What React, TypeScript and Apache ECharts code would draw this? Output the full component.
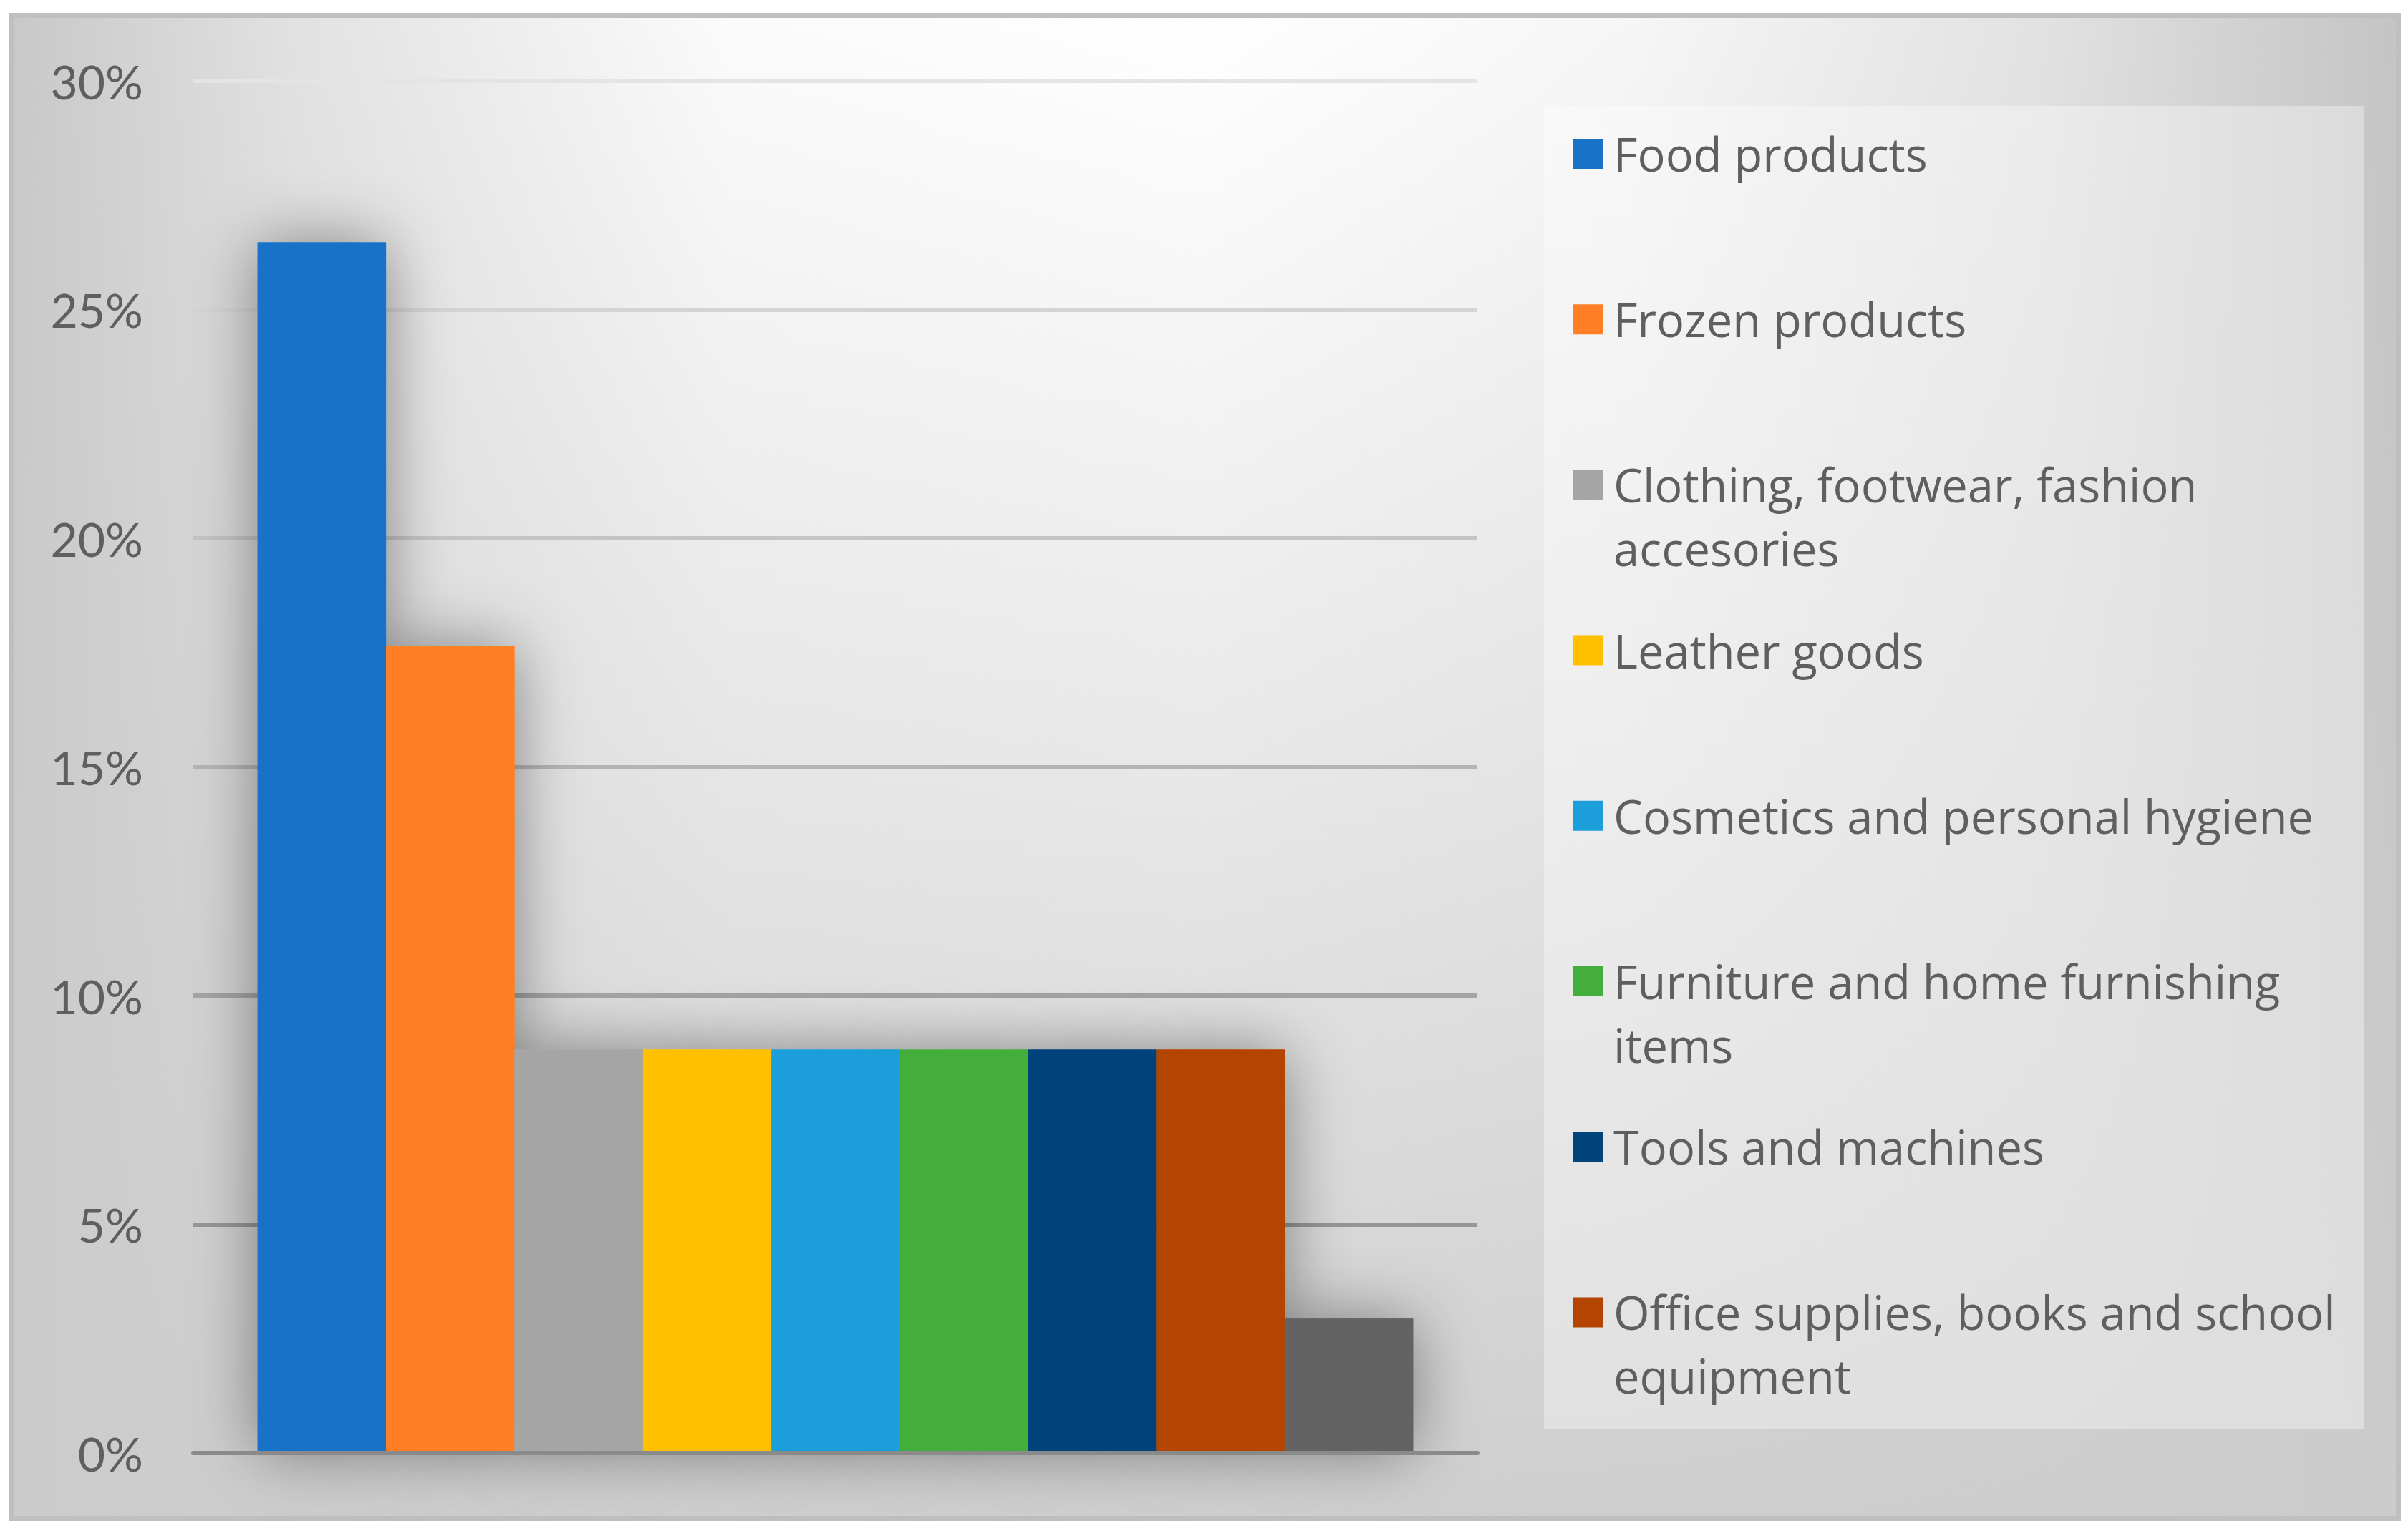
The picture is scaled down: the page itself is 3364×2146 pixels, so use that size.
import React, { useEffect, useRef } from "react";
import * as echarts from "echarts";

const categories = [
  "Food products",
  "Frozen products",
  "Clothing, footwear, fashion accesories",
  "Leather goods",
  "Cosmetics and personal hygiene",
  "Furniture and home furnishing items",
  "Tools and machines",
  "Office supplies, books and school equipment",
  "Other",
];
const legendLabels = [
  "Food products",
  "Frozen products",
  "Clothing, footwear, fashion\naccesories",
  "Leather goods",
  "Cosmetics and personal hygiene",
  "Furniture and home furnishing\nitems",
  "Tools and machines",
  "Office supplies, books and school\nequipment",
];
const values = [26.47, 17.65, 8.82, 8.82, 8.82, 8.82, 8.82, 8.82, 2.94];
const colors = [
  "#1873C8",
  "#FF7F27",
  "#A5A5A5",
  "#FFC000",
  "#1B9ED9",
  "#43AE3C",
  "#00427A",
  "#B34500",
  "#636363",
];
const yTicks = [0, 5, 10, 15, 20, 25, 30];
const gridColors = ["#8a8a8a", "#969696", "#a4a4a4", "#b4b4b4", "#c4c4c4", "#d4d4d4", "#e4e4e4"];

const W = 3364;
const H = 2146;
const AXIS_FONT = "Lato";
const LEGEND_FONT = "Open Sans";
const TEXT = "#5f5f5f";

export default function App() {
  const ref = useRef<HTMLDivElement>(null);
  useEffect(() => {
    if (!ref.current) return;
    const chart = echarts.init(ref.current, undefined, { renderer: "svg", width: W, height: H });

    const realSeries = categories.map((name, i) => ({
      name,
      type: "bar",
      xAxisIndex: 0,
      yAxisIndex: 0,
      barGap: "0%",
      barCategoryGap: "10%",
      z: 3,
      itemStyle: { color: colors[i] },
      data: [values[i]],
    }));
    const shadowSeries = categories.map((name, i) => ({
      name: "shadow " + name,
      type: "bar",
      xAxisIndex: 1,
      yAxisIndex: 0,
      barGap: "0%",
      barCategoryGap: "10%",
      z: 1,
      silent: true,
      itemStyle: {
        color: colors[i],
        shadowBlur: 90,
        shadowColor: "rgba(0,0,0,0.42)",
      },
      data: [values[i]],
    }));

    const firstLine = 215;
    const step = 231.2;
    const lineH = 89;
    const legends = legendLabels.map((label, i) => {
      const lines = label.split("\n").length;
      const text = lines === 2 ? "\n" + label : label;
      const blockH = lines === 2 ? lineH * 3 : lineH;
      const c = firstLine + i * step;
      return {
        data: [categories[i]],
        orient: "vertical",
        left: 2197,
        top: c - blockH / 2,
        padding: 0,
        itemWidth: 42,
        itemHeight: 42,
        itemGap: 0,
        icon: "rect",
        selectedMode: false,
        formatter: () => text,
        textStyle: {
          fontFamily: LEGEND_FONT,
          fontSize: 65,
          lineHeight: lineH,
          color: TEXT,
          padding: [0, 0, 0, 10],
        },
      };
    });

    const option = {
      animation: false,
      backgroundColor: "#ffffff",
      textStyle: { fontFamily: AXIS_FONT },
      graphic: [
        {
          type: "rect",
          z: -20,
          shape: { x: 16.5, y: 21.5, width: 3334, height: 2100 },
          style: {
            fill: new echarts.graphic.LinearGradient(0, 0, 1, 0, [
              { offset: 0, color: "#c8c8c8" },
              { offset: 0.12, color: "#e2e2e2" },
              { offset: 0.3, color: "#fbfbfb" },
              { offset: 0.5, color: "#ffffff" },
              { offset: 0.68, color: "#f6f6f6" },
              { offset: 0.85, color: "#e2e2e2" },
              { offset: 1, color: "#c4c4c4" },
            ]),
          },
        },
        {
          type: "rect",
          z: -19,
          shape: { x: 16.5, y: 21.5, width: 3334, height: 2100 },
          style: {
            fill: new echarts.graphic.LinearGradient(0, 0, 0, 1, [
              { offset: 0, color: "rgba(204,204,204,0)" },
              { offset: 0.5, color: "rgba(204,204,204,0.45)" },
              { offset: 1, color: "rgba(204,204,204,0.95)" },
            ]),
            stroke: "#bfbfbf",
            lineWidth: 7,
          },
        },
        {
          type: "rect",
          z: -18,
          shape: { x: 2157, y: 148, width: 1146, height: 1848 },
          style: { fill: "rgba(255,255,255,0.35)" },
        },
      ],
      legend: legends,
      grid: { left: 270, right: W - 2064, top: 113, bottom: H - 2030, containLabel: false },
      xAxis: [
        {
          type: "category",
          data: [""],
          axisLine: { show: true, lineStyle: { color: "#8a8a8a", width: 6 } },
          axisTick: { show: false },
          axisLabel: { show: false },
          splitLine: { show: false },
          z: 4,
        },
        {
          type: "category",
          data: [""],
          show: false,
          position: "bottom",
        },
      ],
      yAxis: {
        type: "value",
        min: yTicks[0],
        max: yTicks[yTicks.length - 1],
        interval: 5,
        axisLine: { show: false },
        axisTick: { show: false },
        axisLabel: {
          formatter: "{value}%",
          fontFamily: AXIS_FONT,
          fontSize: 66,
          color: TEXT,
          margin: 70,
          padding: [0, 0, 6, 0],
        },
        splitLine: { show: true, lineStyle: { color: gridColors, width: 6 } },
      },
      series: [...shadowSeries, ...realSeries],
    };
    chart.setOption(option as any);
    return () => chart.dispose();
  }, []);
  return (
    <div
      ref={ref}
      style={{ position: "absolute", left: 0, top: 0, width: W, height: H }}
    />
  );
}
